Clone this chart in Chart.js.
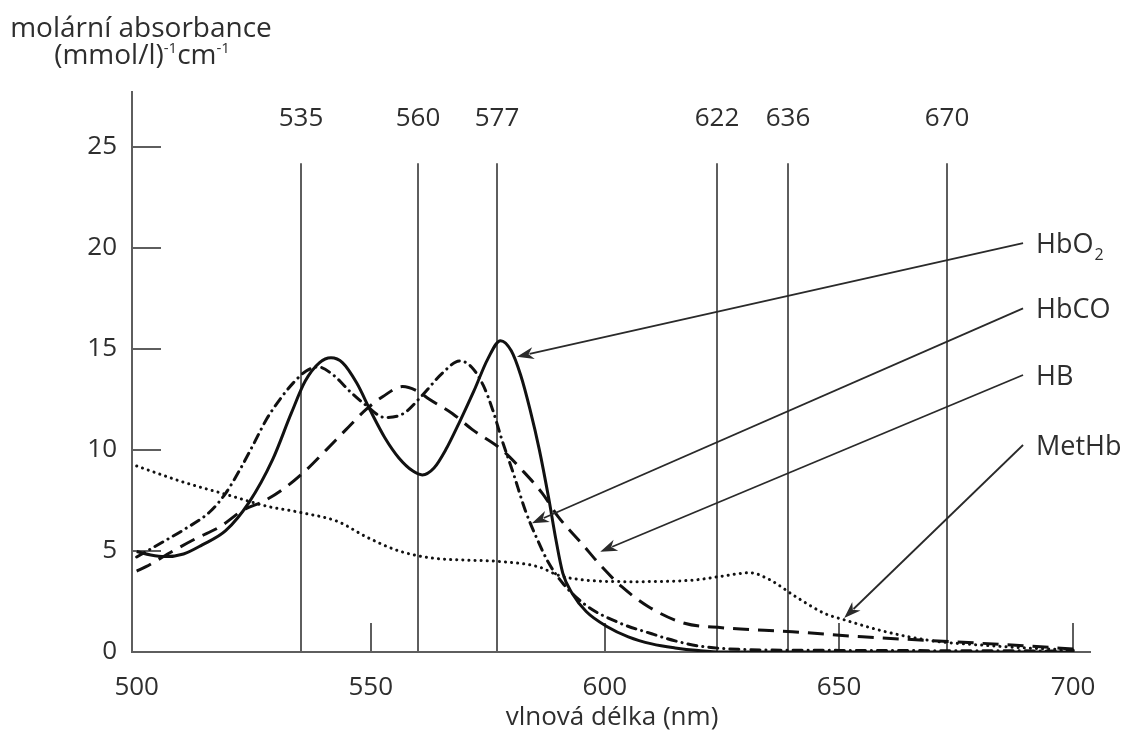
<!DOCTYPE html>
<html>
<head>
<meta charset="utf-8">
<script src="https://cdn.jsdelivr.net/npm/chart.js@4.4.1/dist/chart.umd.min.js"></script>
<style>
html,body{margin:0;padding:0;background:#fff;}
#wrap{width:1136px;height:745px;position:relative;}
</style>
</head>
<body>
<div id="wrap"><canvas id="c" width="1136" height="745"></canvas></div>
<script>
// ---- data ----
const wavelengthTicks = [500, 550, 600, 650, 700];
const absorbanceTicks = [0, 5, 10, 15, 20, 25];
const markerLines  = [535, 560, 577, 624, 639, 673];
const markerLabels = ['535', '560', '577', '622', '636', '670'];

const hbo2X = [500, 503, 506, 510, 514, 519, 524, 529, 533, 536, 539, 541.5, 544, 547, 550, 553, 556, 559, 561, 563.5, 566, 569, 572, 575, 577.7, 580, 582, 584, 586, 588, 589.5, 591, 593, 596, 600.5, 605, 610, 615, 620, 625, 700];
const hbo2Y = [4.97, 4.8, 4.72, 4.85, 5.3, 6.0, 7.4, 9.5, 11.8, 13.4, 14.3, 14.55, 14.3, 13.3, 11.9, 10.6, 9.6, 8.95, 8.76, 9.1, 10.0, 11.4, 12.9, 14.5, 15.4, 14.9, 13.7, 12.0, 10.0, 7.6, 5.6, 3.9, 2.9, 2.0, 1.25, 0.75, 0.4, 0.2, 0.07, 0, 0];

const hbcoX = [500, 505.7, 510, 515.7, 519, 522, 525, 527.7, 530.6, 533.4, 536.2, 538.7, 542, 545.5, 549, 553, 557, 561, 565.3, 569, 571.5, 574, 576, 578, 580.5, 583, 585.5, 588, 591, 596, 603, 610, 615, 620, 630, 650, 700];
const hbcoY = [4.7, 5.46, 6.04, 6.95, 7.85, 9.0, 10.3, 11.5, 12.5, 13.3, 13.9, 14.1, 13.7, 12.9, 12.2, 11.6, 11.8, 12.7, 13.8, 14.4, 14.1, 13.2, 12.0, 10.5, 8.8, 7.0, 5.6, 4.4, 3.4, 2.3, 1.45, 0.9, 0.55, 0.3, 0.12, 0.08, 0.05];

const hbX = [500, 502, 507, 512.8, 517.8, 522.8, 527, 532, 536.2, 540.5, 544.7, 549, 552.6, 556.8, 560, 562.5, 567.4, 571.7, 578, 582.3, 586.6, 590, 595, 599.4, 603.6, 609.3, 617, 625, 640, 655, 675, 690, 700];
const hbY = [4.0, 4.22, 4.9, 5.63, 6.2, 7.03, 7.44, 8.18, 9.0, 10.0, 11.0, 12.0, 12.64, 13.13, 12.9, 12.5, 11.8, 11.0, 10.0, 9.0, 7.86, 6.7, 5.38, 4.2, 3.23, 2.24, 1.42, 1.2, 1.0, 0.75, 0.5, 0.3, 0.15];

const methbX = [500, 510, 519, 528, 535, 543, 549, 556, 563, 570, 578, 586, 590, 596, 606, 619, 625, 631, 635, 641, 647, 651, 660, 670, 680, 690, 700];
const methbY = [9.2, 8.4, 7.8, 7.2, 6.9, 6.45, 5.7, 5.0, 4.65, 4.55, 4.47, 4.2, 3.8, 3.55, 3.48, 3.56, 3.75, 3.92, 3.6, 2.7, 1.9, 1.6, 1.0, 0.55, 0.35, 0.2, 0.1];

const seriesNames = ['HbO2', 'HbCO', 'HB', 'MetHb'];
// annotation arrows (data coordinates): tip of arrow on curve, and start near the label
const arrowTipX = [581.2, 584.4, 599.0, 651.1];
const arrowTipY = [14.6, 6.37, 4.96, 1.68];
const arrowStartX = 689.3;
const arrowStartY = [20.23, 17.0, 13.7, 10.24];
const markerTopValue = 24.18;

// ---- chart ----
const FONT = '"Open Sans", "DejaVu Sans", sans-serif';
const TXT = '#2e2e2e';
const AXIS = '#5e5e5e';

function pts(xs, ys) { return xs.map((x, i) => ({ x: x, y: ys[i] })); }

const common = { showLine: true, pointRadius: 0, borderColor: '#111', borderWidth: 3, fill: false, cubicInterpolationMode: 'monotone' };

const decor = {
  id: 'decor',
  beforeDatasetsDraw(chart) {
    const ctx = chart.ctx, xs = chart.scales.x, ys = chart.scales.y;
    ctx.save();
    ctx.strokeStyle = AXIS; ctx.lineWidth = 2; ctx.lineCap = 'butt';
    const y0 = ys.getPixelForValue(0);
    ctx.font = '26px ' + FONT; ctx.fillStyle = TXT; ctx.textAlign = 'center'; ctx.textBaseline = 'alphabetic';
    markerLines.forEach((v, i) => {
      const px = Math.round(xs.getPixelForValue(v));
      ctx.beginPath(); ctx.moveTo(px, ys.getPixelForValue(markerTopValue)); ctx.lineTo(px, y0); ctx.stroke();
      ctx.fillText(markerLabels[i], px, 126);
    });
    const xl = xs.getPixelForValue(xs.min);
    absorbanceTicks.forEach(v => {
      if (v === 0) return;
      const py = Math.round(ys.getPixelForValue(v));
      ctx.beginPath(); ctx.moveTo(xl, py); ctx.lineTo(xl + 29, py); ctx.stroke();
    });
    wavelengthTicks.forEach(v => {
      if (v === 500) return;
      const px = Math.round(xs.getPixelForValue(v));
      ctx.beginPath(); ctx.moveTo(px, y0); ctx.lineTo(px, y0 - 29); ctx.stroke();
    });
    ctx.restore();
  },
  afterDraw(chart) {
    const ctx = chart.ctx, xs = chart.scales.x, ys = chart.scales.y;
    ctx.save();
    ctx.strokeStyle = '#2a2a2a'; ctx.fillStyle = '#2a2a2a'; ctx.lineWidth = 1.8;
    seriesNames.forEach((n, i) => {
      const x1 = xs.getPixelForValue(arrowStartX), y1 = ys.getPixelForValue(arrowStartY[i]);
      const x2 = xs.getPixelForValue(arrowTipX[i]), y2 = ys.getPixelForValue(arrowTipY[i]);
      const ang = Math.atan2(y2 - y1, x2 - x1);
      const L = 17, W = 6;
      const bx = x2 - L * Math.cos(ang), by = y2 - L * Math.sin(ang);
      ctx.beginPath(); ctx.moveTo(x1, y1); ctx.lineTo(bx + 4 * Math.cos(ang), by + 4 * Math.sin(ang)); ctx.stroke();
      ctx.beginPath();
      ctx.moveTo(x2, y2);
      ctx.lineTo(bx + W * Math.sin(ang), by - W * Math.cos(ang));
      ctx.lineTo(bx + 5 * Math.cos(ang), by + 5 * Math.sin(ang));
      ctx.lineTo(bx - W * Math.sin(ang), by + W * Math.cos(ang));
      ctx.closePath(); ctx.fill();
    });
    ctx.fillStyle = TXT; ctx.textAlign = 'left'; ctx.textBaseline = 'middle';
    const lx = xs.getPixelForValue(arrowStartX) + 13;
    seriesNames.forEach((n, i) => {
      const ly = ys.getPixelForValue(arrowStartY[i]) + 2;
      ctx.font = '27px ' + FONT;
      if (n === 'HbO2') {
        ctx.fillText('HbO', lx, ly);
        const w = ctx.measureText('HbO').width;
        ctx.font = '16px ' + FONT;
        ctx.fillText('2', lx + w + 1, ly + 10);
      } else {
        ctx.fillText(n, lx, ly);
      }
    });
    ctx.textBaseline = 'alphabetic'; ctx.textAlign = 'center';
    ctx.font = '28px ' + FONT;
    ctx.fillText('molární absorbance', 141, 37);
    const parts = [['(mmol/l)', 28, 0], ['-1', 15, -11], ['cm', 28, 0], ['-1', 15, -11]];
    let total = 0;
    parts.forEach(p => { ctx.font = p[1] + 'px ' + FONT; total += ctx.measureText(p[0]).width; });
    let cx = 142 - total / 2;
    ctx.textAlign = 'left';
    parts.forEach(p => { ctx.font = p[1] + 'px ' + FONT; ctx.fillText(p[0], cx, 64 + p[2]); cx += ctx.measureText(p[0]).width; });
    ctx.textAlign = 'center'; ctx.font = '26px ' + FONT;
    ctx.fillText('vlnová délka (nm)', 612, 725);
    ctx.restore();
  }
};

new Chart(document.getElementById('c'), {
  type: 'scatter',
  data: {
    datasets: [
      Object.assign({ label: seriesNames[0], data: pts(hbo2X, hbo2Y), borderDash: [] }, common),
      Object.assign({ label: seriesNames[1], data: pts(hbcoX, hbcoY) }, common, { borderDash: [9, 6, 0.1, 6], borderCapStyle: 'round', borderWidth: 3 }),
      Object.assign({ label: seriesNames[2], data: pts(hbX, hbY) }, common, { borderDash: [16, 9], borderWidth: 3 }),
      Object.assign({ label: seriesNames[3], data: pts(methbX, methbY) }, common, { borderDash: [0.1, 6], borderCapStyle: 'round', borderWidth: 3 })
    ]
  },
  options: {
    responsive: false,
    animation: false,
    layout: { padding: { top: 92, right: 46, left: 0, bottom: 0 } },
    plugins: { legend: { display: false }, tooltip: { enabled: false } },
    scales: {
      x: {
        type: 'linear', min: 499, max: 703.6,
        afterBuildTicks: s => { s.ticks = wavelengthTicks.map(v => ({ value: v })); },
        afterFit: s => { s.height = 93; },
        grid: { display: true, drawOnChartArea: false, drawTicks: false },
        border: { display: true, color: AXIS, width: 2 },
        ticks: { color: TXT, font: { family: FONT, size: 26 }, padding: 20, maxRotation: 0, autoSkip: false }
      },
      y: {
        type: 'linear', min: 0, max: 27.7,
        afterBuildTicks: s => { s.ticks = absorbanceTicks.map(v => ({ value: v })); },
        afterFit: s => { s.width = 132; },
        grid: { display: true, drawOnChartArea: false, drawTicks: false },
        border: { display: true, color: AXIS, width: 2 },
        ticks: { color: TXT, font: { family: FONT, size: 26 }, padding: 15 }
      }
    }
  },
  plugins: [decor]
});
</script>
</body>
</html>
